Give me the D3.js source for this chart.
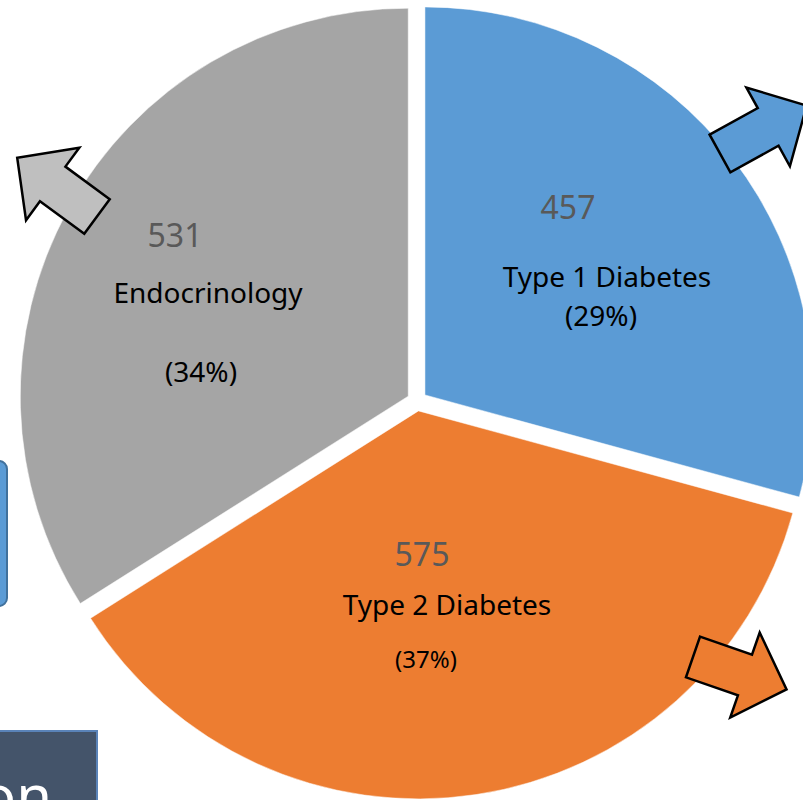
<!DOCTYPE html>
<html lang="en">
<head>
<meta charset="utf-8">
<title>referrals pie</title>
<script src="https://cdn.jsdelivr.net/npm/d3@7"></script>
<style>
  body { margin: 0; background: #fff; }
  svg { display: block; font-family: "Noto Sans", "Open Sans", sans-serif; }
  .num { fill: #595959; font-size: 32px; }
  .lbl { fill: #000; font-size: 28px; }
</style>
</head>
<body>
<svg width="803" height="800"></svg>
<script>
// data
var categories = ["Type 1 Diabetes", "Type 2 Diabetes", "Endocrinology"];
var counts = [457, 575, 531];
var percents = ["(29%)", "(37%)", "(34%)"];
var colors = ["#5B9BD5", "#ED7D31", "#A5A5A5"];

// layout
var cx = 417, cy = 401, radius = 388, explode = 10;
// label spots: [num x, num y, name x, name y, pct x, pct y, pct size]
var labelPos = [
  [568, 219, 607, 287, 601, 326, 28],
  [422, 566, 447, 615, 426, 668, 24],
  [175, 247, 208, 303, 201, 382, 28]
];
// arrows: translate x, y, rotate
var arrowPos = [
  [720, 153.5, -28.9, "#5B9BD5"],
  [693, 657, 19.1, "#ED7D31"],
  [97, 216.5, -143.7, "#BFBFBF"]
];

var svg = d3.select("svg");

// side boxes from the slide
svg.append("rect")
  .attr("x", -30).attr("y", 461).attr("width", 37).attr("height", 145)
  .attr("rx", 8)
  .attr("fill", "#5B9BD5").attr("stroke", "#41719C").attr("stroke-width", 2);

svg.append("rect")
  .attr("x", -10).attr("y", 731).attr("width", 107).attr("height", 90)
  .attr("fill", "#44546A").attr("stroke", "#5A83B8").attr("stroke-width", 2);
svg.append("text")
  .attr("x", 52).attr("y", 817)
  .attr("text-anchor", "end")
  .attr("fill", "#fff").attr("font-size", 58)
  .text("on");

var pie = d3.pie().sort(null).value(function(d) { return d; });
var arc = d3.arc().innerRadius(0).outerRadius(radius);
var arcs = pie(counts);

var g = svg.append("g").attr("transform", "translate(" + cx + "," + cy + ")");
g.selectAll("path")
  .data(arcs)
  .enter().append("path")
    .attr("d", arc)
    .attr("fill", function(d, i) { return colors[i]; })
    .attr("stroke", "#fff")
    .attr("stroke-opacity", 0.5)
    .attr("stroke-width", 1)
    .attr("transform", function(d) {
      var a = (d.startAngle + d.endAngle) / 2;
      return "translate(" + (explode * Math.sin(a)) + "," + (-explode * Math.cos(a)) + ")";
    });

// labels
arcs.forEach(function(d, i) {
  var p = labelPos[i];
  svg.append("text").attr("class", "num")
    .attr("x", p[0]).attr("y", p[1]).attr("text-anchor", "middle")
    .text(counts[i]);
  svg.append("text").attr("class", "lbl")
    .attr("x", p[2]).attr("y", p[3]).attr("text-anchor", "middle")
    .text(categories[i]);
  svg.append("text").attr("class", "lbl")
    .attr("x", p[4]).attr("y", p[5]).attr("text-anchor", "middle")
    .style("font-size", p[6] + "px")
    .text(percents[i]);
});

// block arrows
var arrowShape = [[0,-21.5],[55,-21.5],[55,-45],[99,0],[55,45],[55,21.5],[0,21.5]];
svg.selectAll("polygon.arrow")
  .data(arrowPos)
  .enter().append("polygon")
    .attr("class", "arrow")
    .attr("points", arrowShape.map(function(p) { return p.join(","); }).join(" "))
    .attr("transform", function(d) { return "translate(" + d[0] + "," + d[1] + ") rotate(" + d[2] + ")"; })
    .attr("fill", function(d) { return d[3]; })
    .attr("stroke", "#000")
    .attr("stroke-width", 2.5)
    .attr("stroke-linejoin", "miter");
</script>
</body>
</html>
